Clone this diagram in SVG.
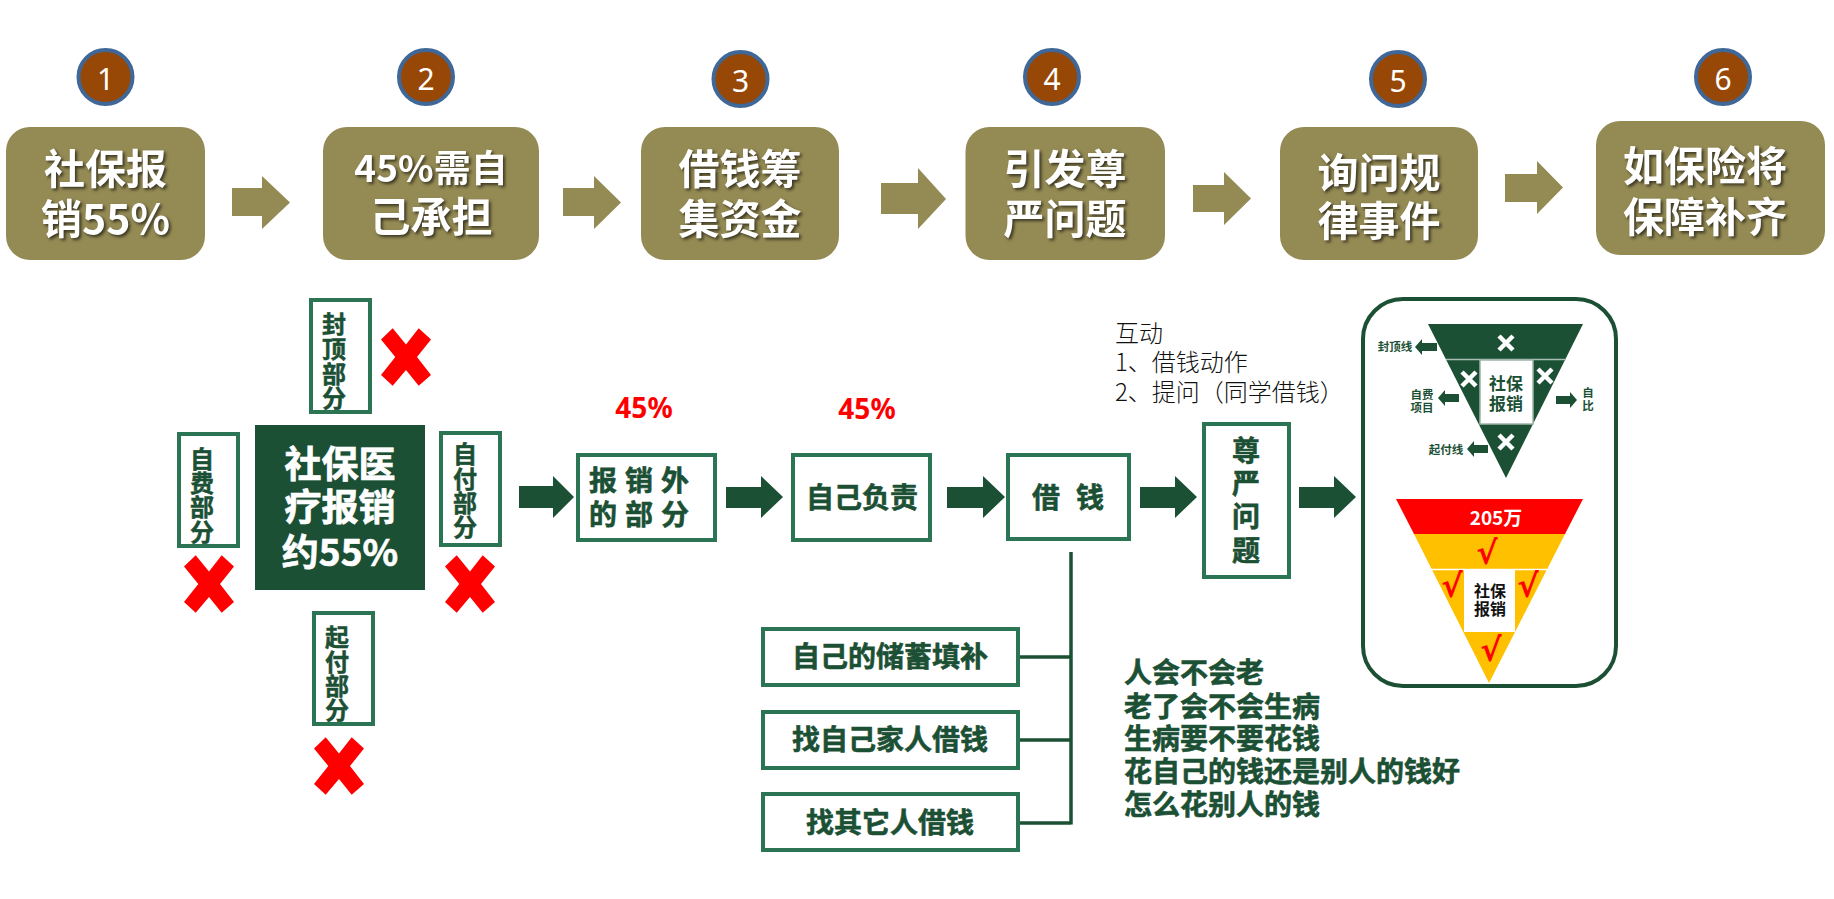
<svg xmlns="http://www.w3.org/2000/svg" width="1834" height="899" viewBox="0 0 1834 899">
<style>
text{font-family:"Noto Sans CJK SC","Noto Sans",sans-serif;text-anchor:middle;dominant-baseline:central}
.step{fill:#948a54}
.title{fill:#fff;font-size:41px;font-weight:700;filter:drop-shadow(2px 2px 1.5px rgba(0,0,0,.6));transform:translateY(-2px)}
.badge{fill:#974706;stroke:#3f6797;stroke-width:4}
.num{fill:#fff;font-size:30px;font-family:"Noto Sans",sans-serif}
.arr{fill:#948a54}
.garr{fill:#1c5035}
.box{fill:#fff;stroke:#2b7555;stroke-width:4}
.lab{fill:#1c5035;stroke:#1c5035;stroke-width:.6px;font-size:28px;font-weight:700;transform:translateY(-1.6px)}
.vlab{fill:#1c5035;stroke:#1c5035;stroke-width:.5px;font-size:24px;font-weight:700;transform:translateY(-1.4px)}
.lab28{fill:#1c5035;stroke:#1c5035;stroke-width:.6px;font-size:28px;font-weight:700;transform:translateY(-1.6px)}
.big{fill:#fff;stroke:#fff;stroke-width:.7px;font-size:37px;font-weight:700;transform:translateY(-2px)}
.red{fill:#f00;font-size:28px;font-weight:700;font-family:"Noto Sans",sans-serif}
.note{fill:#111;font-size:24px;font-weight:300;text-anchor:start;transform:translateY(-1.4px)}
.list{fill:#1c5035;stroke:#1c5035;stroke-width:.6px;font-size:28px;font-weight:700;text-anchor:start;transform:translateY(-1.6px)}
.line{stroke:#1c5035;stroke-width:3.5;fill:none}
.x{fill:#f00}
.wx{stroke:#fff;stroke-width:4.5;fill:none}
.sm{fill:#1c5035;font-size:11.5px;font-weight:700;transform:translateY(-.7px)}
.chk{fill:#f00;font-size:32px;font-weight:700;font-family:"DejaVu Sans",sans-serif}
</style>
<defs>
<path id="cross" d="M-13.3-28.7-25-17.5-10.7 0-25 17.9-13.3 28.7 0 12.9 12.7 28.7 25 17.9 11 0 25-17.5 12.7-28.7 0-12.5Z"/>
<path id="wcross" d="M-7-7 7 7M7-7-7 7"/>
</defs>

<g id="step1"><rect class="step" x="6" y="127" width="199" height="133" rx="24"/><text class="title" x="105.500" y="168">社保报</text><text class="title" x="105.500" y="218">销55%</text></g>
<g id="step2"><rect class="step" x="323" y="127" width="216" height="133" rx="24"/><text class="title" x="431" y="168" style="font-size:37px">45%需自</text><text class="title" x="431" y="216">己承担</text></g>
<g id="step3"><rect class="step" x="641" y="127" width="198" height="133" rx="24"/><text class="title" x="740" y="168">借钱筹</text><text class="title" x="740" y="218">集资金</text></g>
<g id="step4"><rect class="step" x="965.500" y="127" width="199.500" height="133" rx="24"/><text class="title" x="1065" y="168">引发尊</text><text class="title" x="1065" y="218">严问题</text></g>
<g id="step5"><rect class="step" x="1280" y="127" width="198" height="133" rx="24"/><text class="title" x="1379" y="172">询问规</text><text class="title" x="1379" y="220">律事件</text></g>
<g id="step6"><rect class="step" x="1596" y="121" width="229" height="134" rx="24"/><text class="title" x="1705" y="165">如保险将</text><text class="title" x="1705" y="216">保障补齐</text></g>

<g id="badge1"><circle class="badge" cx="105.500" cy="77" r="27"/><text class="num" x="105.500" y="78">1</text></g>
<g id="badge2"><circle class="badge" cx="426" cy="77" r="27"/><text class="num" x="426" y="78">2</text></g>
<g id="badge3"><circle class="badge" cx="740.500" cy="79" r="27"/><text class="num" x="740.500" y="80">3</text></g>
<g id="badge4"><circle class="badge" cx="1052" cy="77" r="27"/><text class="num" x="1052" y="78">4</text></g>
<g id="badge5"><circle class="badge" cx="1398" cy="79" r="27"/><text class="num" x="1398" y="80">5</text></g>
<g id="badge6"><circle class="badge" cx="1723" cy="77" r="27"/><text class="num" x="1723" y="78">6</text></g>

<g id="connectors">
<polygon class="arr" points="232,188 262,188 262,176 290,202.500 262,229 262,216 232,216"/>
<polygon class="arr" points="563,188 594,188 594,176 621,202.500 594,229 594,216 563,216"/>
<polygon class="arr" points="881,183 918,183 918,168 946,199 918,229 918,214 881,214"/>
<polygon class="arr" points="1193,185 1224,185 1224,172 1251,198.500 1224,225 1224,212 1193,212"/>
<polygon class="arr" points="1505,174 1537,174 1537,161 1563,187.500 1537,214 1537,202 1505,202"/>
<polygon class="garr" points="519,486 553,486 553,476 574,497 553,518 553,508 519,508"/>
<polygon class="garr" points="726,487 761,487 761,476 783,497 761,518 761,508 726,508"/>
<polygon class="garr" points="947,487 983,487 983,476 1005,497 983,518 983,508 947,508"/>
<polygon class="garr" points="1140,487 1175,487 1175,476 1197,497 1175,518 1175,508 1140,508"/>
<polygon class="garr" points="1299,487 1334,487 1334,476 1356,497 1334,518 1334,508 1299,508"/>
<path class="line" d="M1071 552V824.500M1020 657H1071M1020 740H1071M1020 823H1071"/>
</g>

<g id="center"><rect x="255" y="425" width="170" height="165" fill="#1c5035"/><text class="big" x="340" y="464">社保医</text><text class="big" x="340" y="507">疗报销</text><text class="big" x="340" y="552">约55%</text></g>
<g id="top-part"><rect class="box" x="311" y="300" width="59" height="112"/><text class="vlab" x="334 334 334 334" y="324 349 374 398">封顶部分</text><use href="#cross" class="x" x="406" y="357"/></g>
<g id="left-part"><rect class="box" x="179" y="434" width="59" height="112"/><text class="vlab" x="202 202 202 202" y="459 483 507 532">自费部分</text><use href="#cross" class="x" x="209" y="584"/></g>
<g id="right-part"><rect class="box" x="441" y="433" width="59" height="112"/><text class="vlab" x="465 465 465 465" y="454 479 503 527">自付部分</text><use href="#cross" class="x" x="470" y="584"/></g>
<g id="bottom-part"><rect class="box" x="314" y="613" width="59" height="111"/><text class="vlab" x="337 337 337 337" y="637 662 686 710">起付部分</text><use href="#cross" class="x" x="339" y="766"/></g>

<g id="outside"><rect class="box" x="578" y="455" width="137" height="85"/><text class="lab" x="603 639 675" y="481 481 481">报销外</text><text class="lab" x="603 639 675" y="515 515 515">的部分</text></g>
<g id="self"><rect class="box" x="793" y="455" width="137" height="85"/><text class="lab" x="862" y="498">自己负责</text></g>
<g id="borrow"><rect class="box" x="1008" y="455" width="121" height="84"/><text class="lab" x="1046 1090" y="498 498">借钱</text></g>
<g id="dignity"><rect class="box" x="1204" y="424" width="85" height="153"/><text class="lab" x="1246 1246 1246 1246" y="451 484 517 551">尊严问题</text></g>
<g id="pct1"><text class="red" x="644" y="407">45%</text></g>
<g id="pct2"><text class="red" x="867" y="408">45%</text></g>
<g id="note"><text class="note" x="1115" y="333">互动</text><text class="note" x="1115" y="362">1、借钱动作</text><text class="note" x="1115" y="392">2、提问（同学借钱）</text></g>

<g id="opt1"><rect class="box" x="763" y="629" width="255" height="56"/><text class="lab28" x="890" y="657">自己的储蓄填补</text></g>
<g id="opt2"><rect class="box" x="763" y="712" width="255" height="56"/><text class="lab28" x="890" y="740">找自己家人借钱</text></g>
<g id="opt3"><rect class="box" x="763" y="794" width="255" height="56"/><text class="lab28" x="890" y="823">找其它人借钱</text></g>
<g id="questions"><text class="list" x="1124" y="673">人会不会老</text><text class="list" x="1124" y="707">老了会不会生病</text><text class="list" x="1124" y="739">生病要不要花钱</text><text class="list" x="1124" y="772">花自己的钱还是别人的钱好</text><text class="list" x="1124" y="805">怎么花别人的钱</text></g>

<g id="panel">
<rect x="1363" y="299" width="253" height="387" rx="40" fill="#fff" stroke="#1c5035" stroke-width="4"/>
<polygon points="1428,324 1583,324 1506,478" fill="#1c5035"/>
<path d="M1446 359.500H1566" stroke="#a9bfb2" stroke-width="1.500"/>
<rect x="1480" y="360" width="53" height="64" fill="#fff" stroke="#9db5a7" stroke-width="1.500"/>
<text x="1506" y="382" style="fill:#1c5035;font-size:17px;font-weight:700">社保</text>
<text x="1506" y="402" style="fill:#1c5035;font-size:17px;font-weight:700">报销</text>
<use href="#wcross" class="wx" x="1506" y="343"/><use href="#wcross" class="wx" x="1469" y="379"/><use href="#wcross" class="wx" x="1545" y="376"/><use href="#wcross" class="wx" x="1506" y="442"/>
<polygon class="garr" points="1437,343 1422,343 1422,339 1415,347 1422,355 1422,351 1437,351"/>
<polygon class="garr" points="1459,394 1445,394 1445,390 1438,398 1445,406 1445,402 1459,402"/>
<polygon class="garr" points="1556,396 1570,396 1570,392 1577,400 1570,408 1570,404 1556,404"/>
<polygon class="garr" points="1488,445 1474,445 1474,441 1467,449 1474,457 1474,453 1488,453"/>
<text class="sm" x="1395" y="347">封顶线</text><text class="sm" x="1422" y="395">自费</text><text class="sm" x="1422" y="408">项目</text><text class="sm" x="1446" y="450">起付线</text><text class="sm" x="1588" y="393">自</text><text class="sm" x="1588" y="406">比</text>
<polygon points="1396,499 1583,499 1565,534 1414,534" fill="#f00"/>
<polygon points="1414,534 1565,534 1489,683" fill="#ffc000"/>
<path d="M1431 569.500H1547" stroke="#fff" stroke-width="1.500"/>
<rect x="1464" y="570" width="51" height="62" fill="#fff"/>
<text x="1496" y="516" style="fill:#fff;font-size:19px;font-weight:700">205万</text>
<text x="1490" y="590" style="fill:#111;font-size:16px;font-weight:700">社保</text>
<text x="1490" y="608" style="fill:#111;font-size:16px;font-weight:700">报销</text>
<text class="chk" x="1487" y="553">√</text><text class="chk" x="1452" y="586">√</text><text class="chk" x="1528" y="586">√</text><text class="chk" x="1491" y="650">√</text>
</g>
</svg>
